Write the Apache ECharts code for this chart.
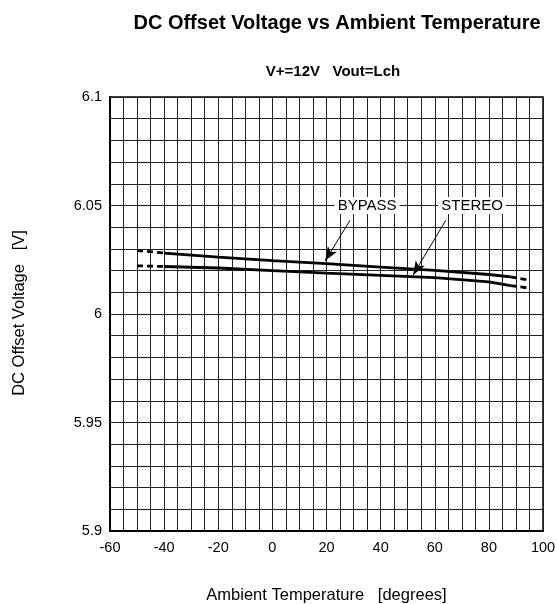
<!DOCTYPE html>
<html>
<head>
<meta charset="utf-8">
<script src="https://cdn.jsdelivr.net/npm/echarts@6/dist/echarts.min.js"></script>
<style>
html,body{margin:0;padding:0;background:#fff;}
#chart{width:557px;height:604px;}
</style>
</head>
<body>
<div id="chart"></div>
<script>
var titleText = 'DC Offset Voltage vs Ambient Temperature';
var subtitleText = 'V+=12V   Vout=Lch';
var xName = 'Ambient Temperature   [degrees]';
var yName = 'DC Offset Voltage   [V]';
var temps = [-50, -40, -20, 0, 20, 40, 60, 80, 88, 95];
var bypass = [6.0293, 6.0281, 6.0262, 6.0246, 6.0232, 6.0216, 6.0201, 6.0182, 6.0171, 6.0156];
var stereo = [6.0222, 6.0219, 6.0212, 6.0200, 6.0188, 6.0178, 6.0168, 6.0148, 6.0131, 6.0119];
var xTicks = [-60, -40, -20, 0, 20, 40, 60, 80, 100];
var yTicks = ['5.9', '5.95', '6', '6.05', '6.1'];
// annotation anchors (data coords): [label, labelX, labelY, arrowStartX, arrowStartY, arrowEndX, arrowEndY]
var bypassNote = ['BYPASS', 35, 6.05, 28.7, 6.0432, 19.5, 6.0245];
var stereoNote = ['STEREO', 73.8, 6.05, 64.1, 6.0432, 52, 6.0180];

var FONT = '"Liberation Sans", Arial, sans-serif';

function pairs(xs, ys, a, b) {
  var out = [];
  for (var i = a; i <= b; i++) out.push([xs[i], ys[i]]);
  return out;
}
var n = temps.length;
function curveSeries(name, ys) {
  var base = {type: 'line', symbol: 'none', silent: true, z: 5,
    lineStyle: {color: '#000', width: 2.8}};
  return [
    Object.assign({}, base, {name: name + '-l', data: pairs(temps, ys, 0, 1),
      lineStyle: {color: '#000', width: 2.8, type: [6, 4]}}),
    Object.assign({}, base, {name: name, data: pairs(temps, ys, 1, n - 2)}),
    Object.assign({}, base, {name: name + '-r', data: pairs(temps, ys, n - 2, n - 1),
      lineStyle: {color: '#000', width: 2.8, type: [6, 4]}})
  ];
}
function noteSeries(note) {
  return {
    type: 'line', data: [], silent: true, z: 6,
    markLine: {
      silent: true, symbol: ['none', 'arrow'], symbolSize: [8, 14],
      lineStyle: {color: '#000', width: 1, type: 'solid'},
      label: {show: false},
      data: [[{coord: [note[3], note[4]]}, {coord: [note[5], note[6]]}]]
    },
    markPoint: {
      silent: true, symbol: 'rect', symbolSize: 1,
      itemStyle: {color: 'rgba(0,0,0,0)'},
      label: {show: true, position: 'inside', formatter: note[0], color: '#000',
        fontFamily: FONT, fontSize: 15, backgroundColor: '#fff', padding: [1, 3]},
      data: [{coord: [note[1], note[2]]}]
    }
  };
}

var chart = echarts.init(document.getElementById('chart'), null, {renderer: 'canvas'});
var series = [].concat(curveSeries('BYPASS', bypass), curveSeries('STEREO', stereo),
  [noteSeries(bypassNote), noteSeries(stereoNote)]);

chart.setOption({
  animation: false,
  backgroundColor: '#fff',
  title: [
    {text: titleText, left: 332, top: 8, textAlign: 'center',
      textStyle: {fontFamily: FONT, fontSize: 20, fontWeight: 'bold', color: '#000'}},
    {text: subtitleText, left: 328, top: 59, textAlign: 'center',
      textStyle: {fontFamily: FONT, fontSize: 15, fontWeight: 'bold', color: '#000'}}
  ],
  graphic: [
    {type: 'text', x: 19, y: 313, rotation: Math.PI / 2,
      style: {text: yName, font: '16.5px ' + FONT, fill: '#000', textAlign: 'center', textVerticalAlign: 'middle'}}
  ],
  grid: {left: 110, right: 14, top: 97, bottom: 73, show: true, borderColor: '#000', borderWidth: 1.5,
    backgroundColor: 'transparent', containLabel: false, outerBoundsMode: 'none'},
  xAxis: {
    type: 'value', min: -60, max: 100, interval: 5,
    name: xName, nameLocation: 'middle', nameGap: 56,
    nameTextStyle: {color: '#000', fontFamily: FONT, fontSize: 16.5},
    axisLine: {show: true, onZero: false, lineStyle: {color: '#000', width: 2}},
    axisTick: {show: false},
    splitLine: {show: true, lineStyle: {color: '#222', width: 1}},
    axisLabel: {
      color: '#000', fontFamily: FONT, fontSize: 14.5, margin: 9,
      formatter: function (v) { return xTicks.indexOf(Math.round(v)) >= 0 && Math.abs(v - Math.round(v)) < 1e-6 ? String(Math.round(v)) : ''; }
    }
  },
  yAxis: {
    type: 'value', min: 5.9, max: 6.1, interval: 0.01,
    axisLine: {show: true, onZero: false, lineStyle: {color: '#000', width: 2}},
    axisTick: {show: false},
    splitLine: {show: true, lineStyle: {color: '#222', width: 1}},
    axisLabel: {
      color: '#000', fontFamily: FONT, fontSize: 14.5, margin: 8,
      formatter: function (v) {
        var s = String(Math.round(v * 100) / 100);
        return yTicks.indexOf(s) >= 0 ? s : '';
      }
    }
  },
  series: series
});
</script>
</body>
</html>
